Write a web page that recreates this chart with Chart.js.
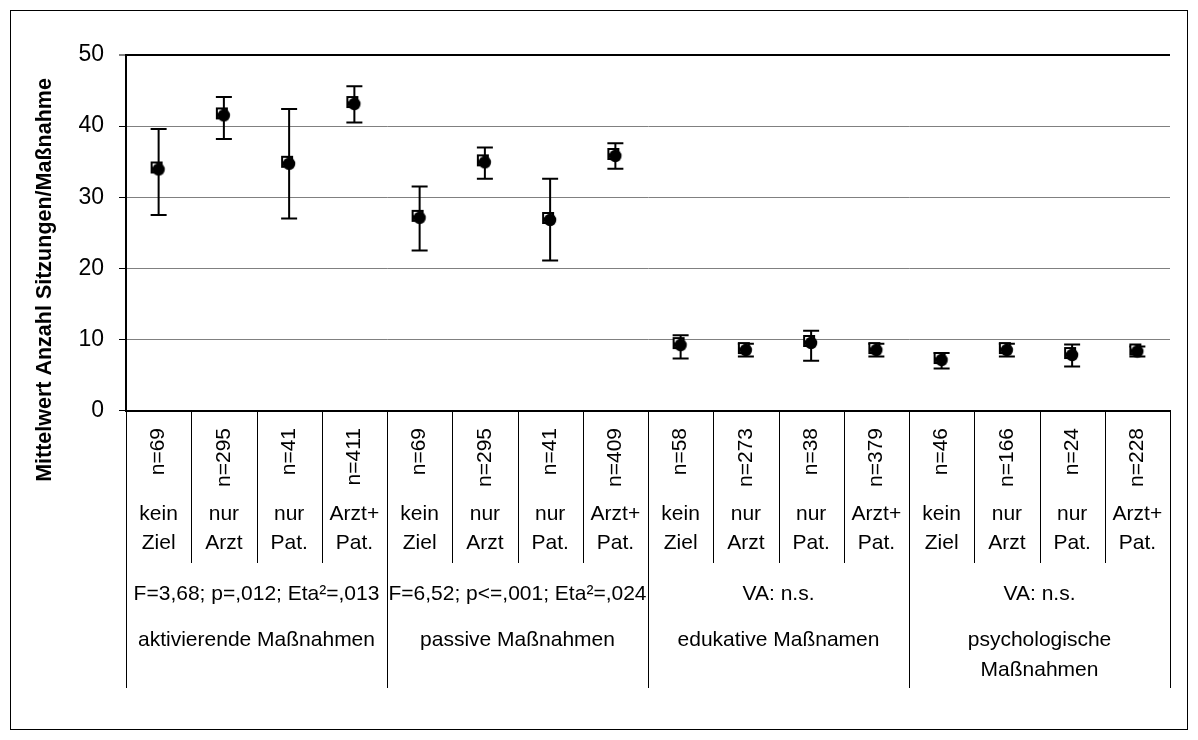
<!DOCTYPE html>
<html>
<head>
<meta charset="utf-8">
<script src="https://cdn.jsdelivr.net/npm/chart.js@4"></script>
<style>
  body { margin: 0; background: #fff; }
  canvas { display: block; }
</style>
</head>
<body>
<canvas id="chart" width="1198" height="740"></canvas>
<script>
// values
let nCounts = ["n=69", "n=295", "n=41", "n=411", "n=69", "n=295", "n=41", "n=409",
               "n=58", "n=273", "n=38", "n=379", "n=46", "n=166", "n=24", "n=228"];
let goals = [["kein", "Ziel"], ["nur", "Arzt"], ["nur", "Pat."], ["Arzt+", "Pat."]];
let stats = ["F=3,68; p=,012; Eta²=,013", "F=6,52; p<=,001; Eta²=,024", "VA: n.s.", "VA: n.s."];
let groups = [["aktivierende Maßnahmen"], ["passive Maßnahmen"], ["edukative Maßnamen"], ["psychologische", "Maßnahmen"]];

let means = [33.9, 41.5, 34.7, 43.1, 27.1, 34.9, 26.8, 35.8,
             9.2, 8.5, 9.5, 8.5, 7.1, 8.5, 7.8, 8.3];
let upper = [39.6, 44.1, 42.4, 45.6, 31.5, 37.0, 32.6, 37.6,
             10.6, 9.4, 11.2, 9.4, 8.1, 9.4, 9.3, 9.0];
let lower = [27.5, 38.2, 27.0, 40.5, 22.5, 32.6, 21.1, 34.0,
             7.3, 7.6, 7.0, 7.6, 5.9, 7.6, 6.2, 7.6];

let yTicks = [0, 10, 20, 30, 40, 50];
let yTitle = "Mittelwert Anzahl Sitzungen/Maßnahme";

const FONT = "'Liberation Sans', Arial, sans-serif";

// marker: open square behind a filled dot, like the old excel export
function makeMarker() {
  let c = document.createElement("canvas");
  c.width = 18;
  c.height = 18;
  let g = c.getContext("2d");
  g.fillStyle = "#fff";
  g.strokeStyle = "#000";
  g.lineWidth = 2;
  g.fillRect(2, 2, 10, 10);
  g.strokeRect(2, 2, 10, 10);
  g.fillStyle = "#000";
  g.beginPath();
  g.arc(9, 9, 6.2, 0, Math.PI * 2);
  g.fill();
  return c;
}

let labels = nCounts.map((n, i) => goals[i % 4].join(" "));

const tablePlugin = {
  id: "table",
  beforeDraw(chart) {
    let ctx = chart.ctx;
    ctx.save();
    ctx.fillStyle = "#fff";
    ctx.fillRect(0, 0, chart.width, chart.height);
    ctx.restore();
  },
  beforeDatasetsDraw(chart) {
    let ctx = chart.ctx;
    let x = chart.scales.x, y = chart.scales.y;
    ctx.save();
    ctx.strokeStyle = "#000";
    ctx.lineWidth = 2;
    means.forEach((m, i) => {
      let px = x.getPixelForValue(i);
      let top = y.getPixelForValue(upper[i]);
      let bot = y.getPixelForValue(lower[i]);
      ctx.beginPath();
      ctx.moveTo(px, top);
      ctx.lineTo(px, bot);
      ctx.moveTo(px - 8, top);
      ctx.lineTo(px + 8, top);
      ctx.moveTo(px - 8, bot);
      ctx.lineTo(px + 8, bot);
      ctx.stroke();
    });
    ctx.restore();
  },
  afterDraw(chart) {
    let ctx = chart.ctx;
    let area = chart.chartArea;
    let x = chart.scales.x;
    let w = (area.right - area.left) / nCounts.length;
    ctx.save();

    // table lines under the axis
    ctx.strokeStyle = "#000";
    ctx.lineWidth = 1;
    for (let i = 0; i <= nCounts.length; i++) {
      let lx = Math.round(area.left + i * w) + 0.5;
      ctx.beginPath();
      ctx.moveTo(lx, area.bottom);
      ctx.lineTo(lx, i % 4 === 0 ? 688 : 563);
      ctx.stroke();
    }

    ctx.fillStyle = "#000";
    ctx.textBaseline = "middle";
    ctx.font = "21px " + FONT;
    nCounts.forEach((n, i) => {
      let cx = x.getPixelForValue(i);
      ctx.save();
      ctx.translate(cx, 428);
      ctx.rotate(-Math.PI / 2);
      ctx.textAlign = "right";
      ctx.fillText(n, 0, 0);
      ctx.restore();
      let g = goals[i % 4];
      ctx.textAlign = "center";
      ctx.fillText(g[0], cx, 514);
      ctx.fillText(g[1], cx, 543);
    });

    ctx.textAlign = "center";
    stats.forEach((s, k) => {
      let cx = area.left + (k * 4 + 2) * w;
      ctx.fillText(s, cx, 594);
      groups[k].forEach((line, j) => {
        ctx.fillText(line, cx, 640 + j * 30);
      });
    });

    // y axis title
    ctx.save();
    ctx.font = "bold 21.5px " + FONT;
    ctx.translate(45, 280);
    ctx.rotate(-Math.PI / 2);
    ctx.fillText(yTitle, 0, 0);
    ctx.restore();

    // outer frame
    ctx.strokeStyle = "#000";
    ctx.lineWidth = 1;
    ctx.strokeRect(10.5, 10.5, 1177, 719);
    ctx.restore();
  }
};

let chart = new Chart(document.getElementById("chart"), {
  type: "line",
  data: {
    labels: labels,
    datasets: [{
      data: means,
      showLine: false,
      pointStyle: makeMarker(),
      pointRadius: 9,
      pointHoverRadius: 9
    }]
  },
  options: {
    responsive: false,
    animation: false,
    events: [],
    layout: {
      padding: { left: 0, top: 55, right: 28, bottom: 0 }
    },
    plugins: {
      legend: { display: false },
      tooltip: { enabled: false }
    },
    scales: {
      x: {
        type: "category",
        offset: true,
        grid: { display: false },
        ticks: { display: false },
        border: { display: true, color: "#000", width: 2 },
        afterFit(scale) { scale.height = 740 - 410.5; }
      },
      y: {
        min: 0,
        max: 50,
        afterBuildTicks(scale) { scale.ticks = yTicks.map(v => ({ value: v })); },
        ticks: {
          color: "#000",
          padding: 15,
          font: { family: FONT, size: 23 }
        },
        grid: {
          color: c => (c.tick && c.tick.value === 50 ? "#000" : "#808080"),
          lineWidth: c => (c.tick && c.tick.value === 50 ? 2 : 1),
          tickLength: 7,
          tickColor: "#000",
          tickWidth: 1
        },
        border: { display: true, color: "#000", width: 2 },
        afterFit(scale) { scale.width = 126; }
      }
    }
  },
  plugins: [tablePlugin]
});
</script>
</body>
</html>
